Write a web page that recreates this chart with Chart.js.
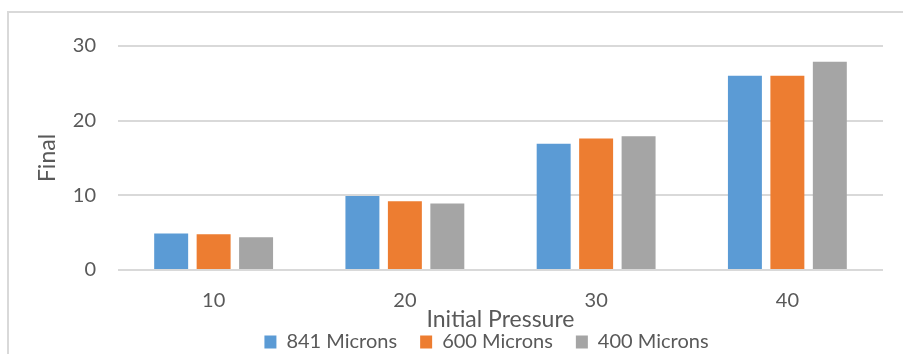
<!DOCTYPE html>
<html>
<head>
<meta charset="utf-8">
<script src="https://cdn.jsdelivr.net/npm/chart.js@4/dist/chart.umd.min.js"></script>
<style>
  html, body { margin: 0; padding: 0; background: #fff; overflow: hidden; }
  #wrap { position: relative; width: 903px; height: 354px; overflow: hidden; }
  #frame { position: absolute; left: 7px; top: 11px; width: 1000px; height: 1000px;
           border: 2px solid #d9d9d9; box-sizing: border-box; }
  canvas { position: absolute; left: 0; top: 0; }
</style>
</head>
<body>
<div id="wrap">
  <div id="frame"></div>
  <canvas id="c" width="903" height="354"></canvas>
</div>
<script>
const categories = ['10', '20', '30', '40'];
const seriesNames = ['841 Microns', '600 Microns', '400 Microns'];
const microns841 = [4.9, 9.9, 16.9, 26];
const microns600 = [4.8, 9.2, 17.6, 26];
const microns400 = [4.4, 8.9, 17.9, 27.9];
const yTicks = [0, 10, 20, 30];

const colors = ['#5b9bd5', '#ed7d31', '#a5a5a5'];
const font = 'Lato, "Open Sans", sans-serif';
const textColor = '#595959';

const makeSet = (label, data, color) => ({
  label, data,
  backgroundColor: color,
  borderWidth: 0,
  barPercentage: 0.8,
  categoryPercentage: 0.666
});

// nudge the legend row a little to the right of the canvas centre
const legendOffset = {
  id: 'legendOffset',
  afterLayout(chart) {
    if (chart.legend) {
      chart.legend.left += 28;
      chart.legend.right += 28;
    }
  }
};

new Chart(document.getElementById('c'), {
  type: 'bar',
  data: {
    labels: categories,
    datasets: [
      makeSet(seriesNames[0], microns841, colors[0]),
      makeSet(seriesNames[1], microns600, colors[1]),
      makeSet(seriesNames[2], microns400, colors[2])
    ]
  },
  plugins: [legendOffset],
  options: {
    responsive: false,
    animation: false,
    layout: { padding: { left: 34, right: 20, top: 46, bottom: -8 } },
    plugins: {
      tooltip: { enabled: false },
      legend: {
        position: 'bottom',
        labels: {
          font: { family: font, size: 20 },
          color: textColor,
          boxWidth: 12,
          boxHeight: 13,
          padding: 23
        }
      }
    },
    scales: {
      x: {
        grid: { display: false, drawTicks: false },
        border: { display: false },
        ticks: { font: { family: font, size: 20 }, color: textColor, padding: 19 },
        title: {
          display: true, text: 'Initial Pressure',
          font: { family: font, size: 23 }, color: textColor,
          padding: { top: -25.8, bottom: -24.8 }
        }
      },
      y: {
        min: 0, max: 30,
        afterBuildTicks: (axis) => { axis.ticks = yTicks.map(v => ({ value: v })); },
        afterFit: (axis) => { axis.width = 84; },
        grid: { color: '#d9d9d9', lineWidth: 2, drawTicks: false },
        border: { display: false },
        ticks: { font: { family: font, size: 20 }, color: textColor, padding: 22 },
        title: {
          display: true, text: 'Final',
          font: { family: font, size: 23 }, color: textColor,
          padding: 0
        }
      }
    }
  }
});
</script>
</body>
</html>
